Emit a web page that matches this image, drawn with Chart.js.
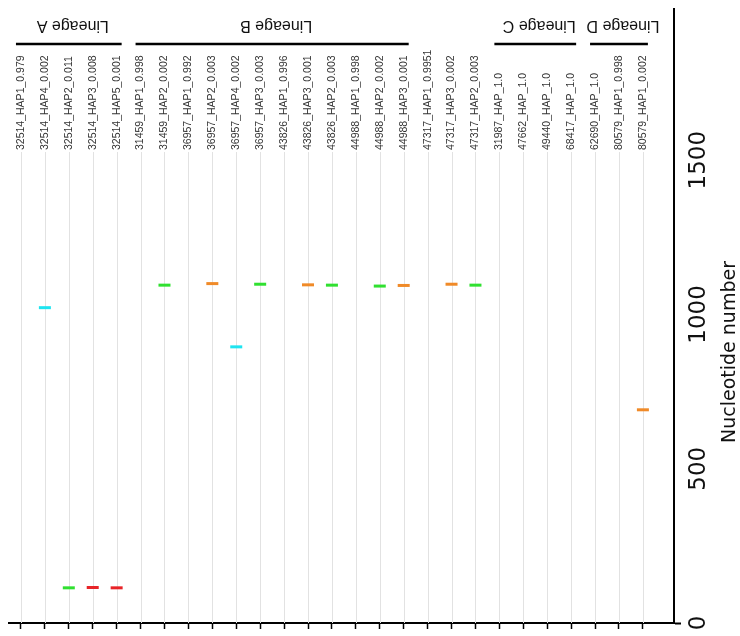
<!DOCTYPE html>
<html>
<head>
<meta charset="utf-8">
<script src="https://cdn.jsdelivr.net/npm/chart.js@4.4.1/dist/chart.umd.min.js"></script>
<style>
  body { margin: 0; background: #fff; }
  #wrap { width: 740px; height: 636px; }
</style>
</head>
<body>
<div id="wrap"><canvas id="haplo" width="740" height="636"></canvas></div>
<script>
// haplotypes, in the order they sit along the plot
var haplotypes = [
    '32514_HAP1_0.979', '32514_HAP4_0.002', '32514_HAP2_0.011', '32514_HAP3_0.008', '32514_HAP5_0.001',
    '31459_HAP1_0.998', '31459_HAP2_0.002', '36957_HAP1_0.992', '36957_HAP2_0.003', '36957_HAP4_0.002',
    '36957_HAP3_0.003', '43826_HAP1_0.996', '43826_HAP3_0.001', '43826_HAP2_0.003', '44988_HAP1_0.998',
    '44988_HAP2_0.002', '44988_HAP3_0.001', '47317_HAP1_0.9951', '47317_HAP3_0.002', '47317_HAP2_0.003',
    '31987_HAP_1.0', '47662_HAP_1.0', '49440_HAP_1.0', '68417_HAP_1.0',
    '62690_HAP_1.0', '80579_HAP1_0.998', '80579_HAP1_0.002'
];
// nucleotide number of the variant site (null = none)
var siteNumber = [
    null, 1022, 114, 115, 114,
    null, 1095, null, 1100, 895,
    1098, null, 1096, 1095, null,
    1092, 1094, null, 1098, 1095,
    null, null, null, null,
    null, null, 691
];
// variant class of each site (0 = none)
var siteClass = [
    0, 1, 2, 3, 3,
    0, 2, 0, 4, 1,
    2, 0, 4, 2, 0,
    2, 4, 0, 4, 2,
    0, 0, 0, 0,
    0, 0, 4
];
var lineageNames = ['Lineage A', 'Lineage B', 'Lineage C', 'Lineage D'];
var lineageFirst = [0, 5, 20, 24];
var lineageLast = [4, 16, 23, 26];
var yTickLabels = [0, 500, 1000, 1500];

var classColours = [null, '#1ee4f0', '#30e030', '#e82428', '#f08a28'];

var points = [];
siteNumber.forEach(function (v, i) {
    if (v !== null) points.push({ x: i, y: v, c: siteClass[i] });
});

var LABEL_BASE = 150;

var decor = {
    id: 'decor',
    beforeDatasetsDraw: function (chart) {
        var ctx = chart.ctx, xs = chart.scales.x, area = chart.chartArea;
        ctx.save();
        ctx.strokeStyle = '#e2e2e2';
        ctx.lineWidth = 1;
        haplotypes.forEach(function (h, i) {
            var x = Math.round(xs.getPixelForValue(i)) + 0.5;
            ctx.beginPath();
            ctx.moveTo(x, LABEL_BASE + 2);
            ctx.lineTo(x, area.bottom);
            ctx.stroke();
        });
        ctx.restore();
    },
    afterDraw: function (chart) {
        var ctx = chart.ctx, xs = chart.scales.x, ys = chart.scales.y;
        ctx.save();
        // haplotype labels, reading upwards
        ctx.fillStyle = '#333';
        ctx.font = '10.5px "Liberation Sans", Arial, sans-serif';
        ctx.textAlign = 'left';
        ctx.textBaseline = 'middle';
        haplotypes.forEach(function (h, i) {
            ctx.save();
            ctx.translate(xs.getPixelForValue(i), LABEL_BASE);
            ctx.rotate(-Math.PI / 2);
            ctx.fillText(h, 0, 0);
            ctx.restore();
        });

        // lineage brackets (text upside down)
        ctx.strokeStyle = '#000';
        ctx.fillStyle = '#111';
        ctx.lineWidth = 2.5;
        ctx.font = '16px "Liberation Sans", Arial, sans-serif';
        ctx.textAlign = 'center';
        lineageNames.forEach(function (name, k) {
            var x0 = xs.getPixelForValue(lineageFirst[k]) - 5;
            var x1 = xs.getPixelForValue(lineageLast[k]) + 5;
            ctx.beginPath();
            ctx.moveTo(x0, 44);
            ctx.lineTo(x1, 44);
            ctx.stroke();
            ctx.save();
            ctx.translate((x0 + x1) / 2 + 4, 25);
            ctx.rotate(Math.PI);
            ctx.fillText(name, 0, 0);
            ctx.restore();
        });

        // y tick labels + title
        ctx.fillStyle = '#111';
        ctx.font = '23px "DejaVu Sans", sans-serif';
        yTickLabels.forEach(function (v) {
            ctx.save();
            ctx.translate(699, ys.getPixelForValue(v));
            ctx.rotate(-Math.PI / 2);
            ctx.fillText(String(v), 0, 0);
            ctx.restore();
        });
        ctx.font = '19px "DejaVu Sans", sans-serif';
        ctx.save();
        ctx.translate(730, 352);
        ctx.rotate(-Math.PI / 2);
        ctx.fillText('Nucleotide number', 0, 0);
        ctx.restore();
        ctx.restore();
    }
};

new Chart(document.getElementById('haplo').getContext('2d'), {
    type: 'scatter',
    data: {
        datasets: [{
            data: points,
            showLine: false,
            pointStyle: 'line',
            pointRadius: 6,
            pointHoverRadius: 6,
            pointBorderWidth: 3,
            pointBorderColor: function (c) { return c.raw ? classColours[c.raw.c] : '#000'; },
            pointBackgroundColor: function (c) { return c.raw ? classColours[c.raw.c] : '#000'; }
        }]
    },
    options: {
        responsive: false,
        animation: false,
        layout: { padding: { left: 3, top: 0, right: 59, bottom: 7 } },
        scales: {
            x: {
                type: 'linear',
                position: 'bottom',
                min: -0.5,
                max: 27.3,
                afterBuildTicks: function (s) {
                    s.ticks = haplotypes.map(function (h, i) { return { value: i }; });
                },
                ticks: { display: false },
                grid: { drawOnChartArea: false, tickLength: 6, tickColor: '#000', tickWidth: 1.5 },
                border: { color: '#000', width: 2 }
            },
            y: {
                position: 'right',
                min: 0,
                max: 1990,
                ticks: { display: false, stepSize: 100 },
                afterBuildTicks: function (s) {
                    s.ticks = s.ticks.filter(function (t) { return t.value % 100 === 0; });
                },
                grid: { drawOnChartArea: false, tickLength: 7, tickColor: '#000', tickWidth: 2 },
                border: { color: '#000', width: 2 }
            }
        },
        plugins: {
            legend: { display: false },
            tooltip: { enabled: false }
        }
    },
    plugins: [decor]
});
</script>
</body>
</html>
